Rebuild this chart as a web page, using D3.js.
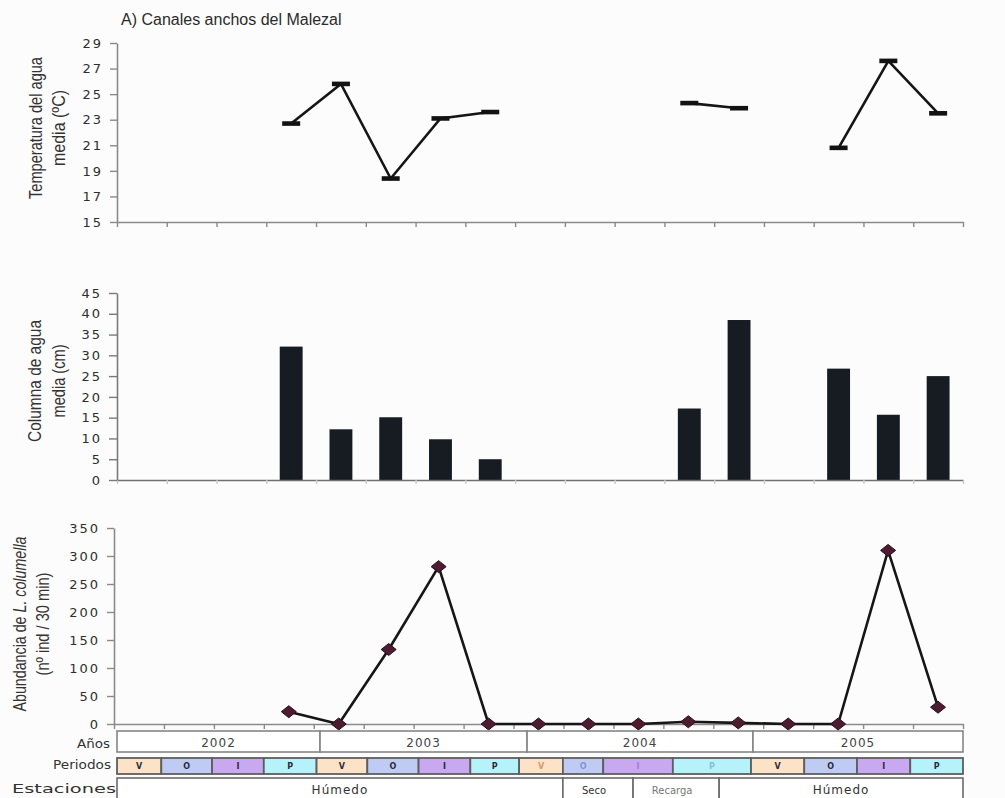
<!DOCTYPE html>
<html>
<head>
<meta charset="utf-8">
<script src="https://cdn.jsdelivr.net/npm/d3@7"></script>
<style>
  body { margin: 0; background: #ffffff; }
  svg { display: block; }
</style>
</head>
<body>
<svg id="chart" width="1005" height="798"></svg>
<script>
// Sampling dates (17 consecutive samplings, 2002-2005)
const muestreos = ["1","2","3","4","5","6","7","8","9","10","11","12","13","14","15","16","17"];

// Mean water temperature (ºC); null = not sampled
const temperatura = [null, null, null, 22.7, 25.8, 18.4, 23.1, 23.6, null, null, null, 24.3, 23.9, null, 20.8, 27.6, 23.5];

// Mean water column (cm)
const columnaAgua = [null, null, null, 32.1, 12.2, 15.1, 9.8, 5.0, null, null, null, 17.2, 38.5, null, 26.8, 15.7, 25.0];

// Abundance of L. columella (nº ind / 30 min)
const abundancia = [null, null, null, 22, 0, 133, 281, 0, 0, 0, 0, 4, 2, 0, 0, 310, 30];

// Axis tick values
const ticksTemp = [15, 17, 19, 21, 23, 25, 27, 29];
const ticksColumna = [0, 5, 10, 15, 20, 25, 30, 35, 40, 45];
const ticksAbund = [0, 50, 100, 150, 200, 250, 300, 350];

// Calendar table below the plots; spans are in sampling units (0 to 17)
const anios = [
  { etiqueta: "2002", desde: 0, hasta: 4.08 },
  { etiqueta: "2003", desde: 4.08, hasta: 8.24 },
  { etiqueta: "2004", desde: 8.24, hasta: 12.78 },
  { etiqueta: "2005", desde: 12.78, hasta: 17 }
];
const periodos = [
  { p: "V", anio: "2002", desde: 0,     hasta: 0.89 },
  { p: "O", anio: "2002", desde: 0.89,  hasta: 1.91 },
  { p: "I", anio: "2002", desde: 1.91,  hasta: 2.95 },
  { p: "P", anio: "2002", desde: 2.95,  hasta: 4.01 },
  { p: "V", anio: "2003", desde: 4.01,  hasta: 5.03 },
  { p: "O", anio: "2003", desde: 5.03,  hasta: 6.06 },
  { p: "I", anio: "2003", desde: 6.06,  hasta: 7.10 },
  { p: "P", anio: "2003", desde: 7.10,  hasta: 8.08 },
  { p: "V", anio: "2004", desde: 8.08,  hasta: 8.96 },
  { p: "O", anio: "2004", desde: 8.96,  hasta: 9.77 },
  { p: "I", anio: "2004", desde: 9.77,  hasta: 11.17 },
  { p: "P", anio: "2004", desde: 11.17, hasta: 12.74 },
  { p: "V", anio: "2005", desde: 12.74, hasta: 13.81 },
  { p: "O", anio: "2005", desde: 13.81, hasta: 14.87 },
  { p: "I", anio: "2005", desde: 14.87, hasta: 15.94 },
  { p: "P", anio: "2005", desde: 15.94, hasta: 17 }
];
const estaciones = [
  { etiqueta: "Húmedo",  desde: 0,     hasta: 8.96 },
  { etiqueta: "Seco",    desde: 8.96,  hasta: 10.37 },
  { etiqueta: "Recarga", desde: 10.37, hasta: 12.10 },
  { etiqueta: "Húmedo",  desde: 12.10, hasta: 17 }
];

const colorPeriodo = { V: "#fce2c6", O: "#bfcbf3", I: "#c8a8ef", P: "#b6f2f9" };
const textoPeriodoTenue = { V: "#d19a66", O: "#7f94cf", I: "#a47bd6", P: "#7fc3cf" };

const svg = d3.select("#chart");
svg.append("rect").attr("width", 1005).attr("height", 798).attr("fill", "#fcfcfc");

const tickFont = "DejaVu Sans, Verdana, sans-serif";
const labelFont = "Liberation Sans Narrow, Arial Narrow, Liberation Sans, Arial, sans-serif";

// Title
svg.append("text")
  .attr("x", 121).attr("y", 25)
  .attr("font-family", "Liberation Sans, Arial, sans-serif")
  .attr("font-size", 16)
  .attr("fill", "#2b2b2b")
  .text("A) Canales anchos del Malezal");

function styleAxis(g, color) {
  g.select(".domain").attr("stroke", color).attr("stroke-width", 1.6);
  g.selectAll(".tick line").attr("stroke", color).attr("stroke-width", 1.4);
  g.selectAll(".tick text")
    .attr("font-family", tickFont)
    .attr("font-size", 13)
    .attr("letter-spacing", "2px")
    .attr("fill", "#2e2e2e");
}

function yTitle(lines, cy) {
  const g = svg.append("g");
  lines.forEach(l => {
    const t = g.append("text")
      .attr("transform", `translate(${l.x},${cy}) rotate(-90)`)
      .attr("text-anchor", "middle")
      .attr("font-family", labelFont)
      .attr("font-size", 18)
      .attr("fill", "#333")
      .attr("textLength", l.len)
      .attr("lengthAdjust", "spacingAndGlyphs");
    l.parts.forEach(p => {
      t.append("tspan").attr("font-style", p.italic ? "italic" : null).text(p.s);
    });
  });
}

const tramos = muestreos.length;

// ---------- Panel 1: water temperature ----------
{
  const left = 117, right = 963, top = 43, bottom = 222;
  const x = d3.scaleBand().domain(muestreos).range([left, right]);
  const xi = d3.scaleLinear().domain([0, tramos]).range([left, right]);
  const y = d3.scaleLinear().domain([15, 29]).range([bottom, top]);

  svg.append("g").attr("transform", `translate(0,${bottom})`)
    .call(d3.axisBottom(xi).tickValues(d3.range(tramos + 1)).tickFormat("").tickSize(5).tickSizeOuter(0))
    .call(g => styleAxis(g, "#8a8a8a"));
  svg.append("g").attr("transform", `translate(${left},0)`)
    .call(d3.axisLeft(y).tickValues(ticksTemp).tickSize(7).tickSizeOuter(0).tickPadding(7))
    .call(g => styleAxis(g, "#8a8a8a"));

  const cx = (d, i) => x(muestreos[i]) + x.bandwidth() / 2;
  const line = d3.line().defined(d => d != null).x(cx).y(d => y(d));
  svg.append("path").datum(temperatura)
    .attr("d", line).attr("fill", "none")
    .attr("stroke", "#151515").attr("stroke-width", 2.6);

  svg.append("g").selectAll("rect")
    .data(temperatura.map((v, i) => ({ v, i })).filter(d => d.v != null))
    .join("rect")
    .attr("x", d => cx(d.v, d.i) - 9).attr("y", d => y(d.v) - 2.3)
    .attr("width", 18).attr("height", 4.6)
    .attr("fill", "#121212");

  yTitle([
    { x: 42, len: 142, parts: [{ s: "Temperatura del agua" }] },
    { x: 65, len: 76, parts: [{ s: "media (ºC)" }] }
  ], 128);
}

// ---------- Panel 2: water column ----------
{
  const left = 117, right = 963, top = 293, bottom = 480;
  const x = d3.scaleBand().domain(muestreos).range([left, right]).paddingInner(0.54).paddingOuter(0.27);
  const xi = d3.scaleLinear().domain([0, tramos]).range([left, right]);
  const y = d3.scaleLinear().domain([0, 45]).range([bottom, top]);

  svg.append("g").selectAll("rect")
    .data(columnaAgua.map((v, i) => ({ v, i })).filter(d => d.v != null))
    .join("rect")
    .attr("x", d => x(muestreos[d.i])).attr("width", x.bandwidth())
    .attr("y", d => y(d.v)).attr("height", d => y(0) - y(d.v))
    .attr("fill", "#161c21");

  svg.append("g").attr("transform", `translate(0,${bottom})`)
    .call(d3.axisBottom(xi).tickValues(d3.range(tramos + 1)).tickFormat("").tickSize(4).tickSizeOuter(0))
    .call(g => styleAxis(g, "#6f6f6f"))
    .call(g => g.selectAll(".tick line").attr("stroke", "#c8c8c8"));
  svg.append("g").attr("transform", `translate(${left},0)`)
    .call(d3.axisLeft(y).tickValues(ticksColumna).tickSize(8).tickSizeOuter(0).tickPadding(7))
    .call(g => styleAxis(g, "#7a7a7a"));

  yTitle([
    { x: 41, len: 122, parts: [{ s: "Columna de agua" }] },
    { x: 65, len: 73, parts: [{ s: "media (cm)" }] }
  ], 381);
}

// ---------- Panel 3: abundance of L. columella ----------
{
  const left = 114, right = 963, top = 528, bottom = 724;
  const x = d3.scaleBand().domain(muestreos).range([left, right]);
  const xi = d3.scaleLinear().domain([0, tramos]).range([left, right]);
  const y = d3.scaleLinear().domain([0, 350]).range([bottom, top]);

  svg.append("g").attr("transform", `translate(0,${bottom})`)
    .call(d3.axisBottom(xi).tickValues(d3.range(tramos + 1)).tickFormat("").tickSize(5).tickSizeOuter(0))
    .call(g => styleAxis(g, "#8a8a8a"));
  svg.append("g").attr("transform", `translate(${left},0)`)
    .call(d3.axisLeft(y).tickValues(ticksAbund).tickSize(7).tickSizeOuter(0).tickPadding(7))
    .call(g => styleAxis(g, "#8a8a8a"));

  const cx = (d, i) => x(muestreos[i]) + x.bandwidth() / 2;
  const line = d3.line().defined(d => d != null).x(cx).y(d => y(d));
  svg.append("path").datum(abundancia)
    .attr("d", line).attr("fill", "none")
    .attr("stroke", "#161616").attr("stroke-width", 2.6);

  const diamond = "M0,-6 L7.5,0 L0,6 L-7.5,0 Z";
  svg.append("g").selectAll("path")
    .data(abundancia.map((v, i) => ({ v, i })).filter(d => d.v != null))
    .join("path")
    .attr("transform", d => `translate(${cx(d.v, d.i)},${y(d.v)})`)
    .attr("d", diamond)
    .attr("fill", "#4d1c31")
    .attr("stroke", "#2a0d19").attr("stroke-width", 1);

  yTitle([
    { x: 26, len: 175, parts: [{ s: "Abundancia de " }, { s: "L. columella", italic: true }] },
    { x: 49, len: 103, parts: [{ s: "(nº ind / 30 min)" }] }
  ], 624);
}

// ---------- Calendar table ----------
{
  const xi = d3.scaleLinear().domain([0, tramos]).range([117, 963]);
  const tabla = svg.append("g");
  const rowLabel = (txt, yBase, x0, len) => tabla.append("text")
    .attr("x", x0).attr("y", yBase)
    .attr("font-family", tickFont).attr("font-size", 12.5)
    .attr("fill", "#333")
    .attr("textLength", len).attr("lengthAdjust", "spacingAndGlyphs")
    .text(txt);
  rowLabel("Años", 748, 77, 33);
  rowLabel("Periodos", 769, 53, 58);
  rowLabel("Estaciones", 793, 12, 104);

  // Years row
  const yA0 = 731, yA1 = 752;
  tabla.append("g").selectAll("rect").data(anios).join("rect")
    .attr("x", d => xi(d.desde)).attr("width", d => xi(d.hasta) - xi(d.desde))
    .attr("y", yA0).attr("height", yA1 - yA0)
    .attr("fill", "#ffffff").attr("stroke", "#858585").attr("stroke-width", 1.6);
  tabla.append("g").selectAll("text").data(anios).join("text")
    .attr("x", d => (xi(d.desde) + xi(d.hasta)) / 2).attr("y", 747)
    .attr("text-anchor", "middle")
    .attr("font-family", tickFont).attr("font-size", 12).attr("letter-spacing", "1px")
    .attr("fill", "#444")
    .text(d => d.etiqueta);

  // Periods row
  const yP0 = 758, yP1 = 774;
  tabla.append("g").selectAll("rect").data(periodos).join("rect")
    .attr("x", d => xi(d.desde)).attr("width", d => xi(d.hasta) - xi(d.desde))
    .attr("y", yP0).attr("height", yP1 - yP0)
    .attr("fill", d => colorPeriodo[d.p]).attr("stroke", "#5e5e5e").attr("stroke-width", 1.8);
  tabla.append("g").selectAll("text").data(periodos).join("text")
    .attr("x", d => (xi(d.desde) + xi(d.hasta)) / 2).attr("y", 769)
    .attr("text-anchor", "middle")
    .attr("font-family", tickFont).attr("font-size", 8).attr("font-weight", "bold")
    .attr("fill", d => d.anio === "2004" ? textoPeriodoTenue[d.p] : "#2a2a3a")
    .text(d => d.p);

  // Seasons row
  const yE0 = 778;
  tabla.append("g").selectAll("rect").data(estaciones).join("rect")
    .attr("x", d => xi(d.desde)).attr("width", d => xi(d.hasta) - xi(d.desde))
    .attr("y", yE0).attr("height", 40)
    .attr("fill", "#ffffff").attr("stroke", "#6a6a6a").attr("stroke-width", 1.6);
  tabla.append("g").selectAll("text").data(estaciones).join("text")
    .attr("x", d => (xi(d.desde) + xi(d.hasta)) / 2 - (d.etiqueta === "Húmedo" ? 0 : 4))
    .attr("y", 794)
    .attr("text-anchor", "middle")
    .attr("font-family", tickFont)
    .attr("font-size", d => d.etiqueta === "Húmedo" ? 12 : 10)
    .attr("letter-spacing", d => d.etiqueta === "Húmedo" ? "1px" : "0px")
    .attr("fill", d => d.etiqueta === "Recarga" ? "#777" : "#333")
    .text(d => d.etiqueta);
}
</script>
</body>
</html>
